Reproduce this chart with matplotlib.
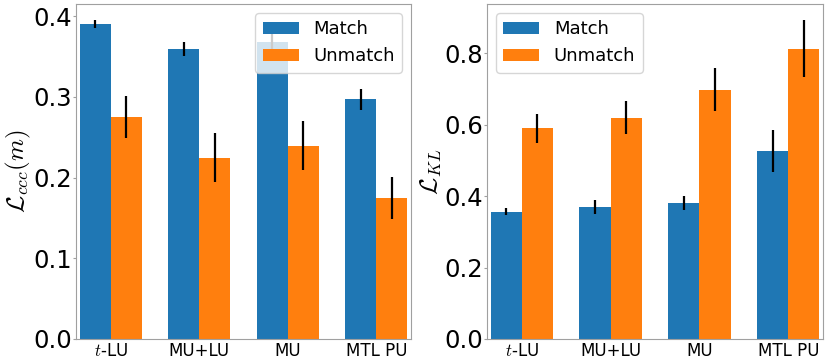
import matplotlib
matplotlib.use("Agg")
import matplotlib.pyplot as plt
import numpy as np

plt.rcParams['mathtext.fontset'] = 'cm'
plt.rcParams['font.family'] = ['DejaVu Sans']

categories = [r'$t$-LU', 'MU+LU', 'MU', 'MTL PU']

ccc_match = [0.390, 0.359, 0.368, 0.297]
ccc_match_err = [0.005, 0.009, 0.011, 0.013]
ccc_unmatch = [0.2755, 0.2247, 0.2396, 0.175]
ccc_unmatch_err = [0.026, 0.030, 0.030, 0.026]

kl_match = [0.357, 0.369, 0.380, 0.527]
kl_match_err = [0.010, 0.020, 0.020, 0.059]
kl_unmatch = [0.590, 0.620, 0.698, 0.813]
kl_unmatch_err = [0.040, 0.045, 0.060, 0.080]

blue = '#1f77b4'
orange = '#ff7f0e'
width = 0.35

fig = plt.figure(figsize=(8.3, 3.63), dpi=100)
W, H = 830, 363
ax1 = fig.add_axes([76 / W, 24 / H, 335 / W, 335 / H])
ax2 = fig.add_axes([487 / W, 24 / H, 336 / W, 335 / H])

x = np.arange(len(categories))

def draw(ax, m, me, u, ue, ylabel, loc):
    ax.bar(x - width / 2, m, width, yerr=me, color=blue, label='Match',
           error_kw=dict(ecolor='black', elinewidth=1.6, capsize=0))
    ax.bar(x + width / 2, u, width, yerr=ue, color=orange, label='Unmatch',
           error_kw=dict(ecolor='black', elinewidth=1.6, capsize=0))
    ax.set_xticks(x)
    ax.set_xticklabels(categories, fontsize=12)
    ax.tick_params(axis='y', labelsize=17.5, length=2, pad=1, color='#a0a0a0')
    ax.tick_params(axis='x', length=0, pad=2)
    ax.set_xlim(-0.39, 3.39)
    for s in ax.spines.values():
        s.set_color('#a0a0a0')
    ax.set_ylabel(ylabel, fontsize=18, labelpad=0)
    ax.legend(loc=loc, fontsize=13)

draw(ax1, ccc_match, ccc_match_err, ccc_unmatch, ccc_unmatch_err,
     r'$\mathcal{L}_{ccc}(m)$', 'upper right')
draw(ax2, kl_match, kl_match_err, kl_unmatch, kl_unmatch_err,
     r'$\mathcal{L}_{KL}$', 'upper left')

ax1.set_ylim(0, 0.415)
ax1.set_yticks([0.0, 0.1, 0.2, 0.3, 0.4])
ax2.set_ylim(0, 0.938)
ax2.set_yticks([0.0, 0.2, 0.4, 0.6, 0.8])

fig.savefig('out.png', dpi=100)
